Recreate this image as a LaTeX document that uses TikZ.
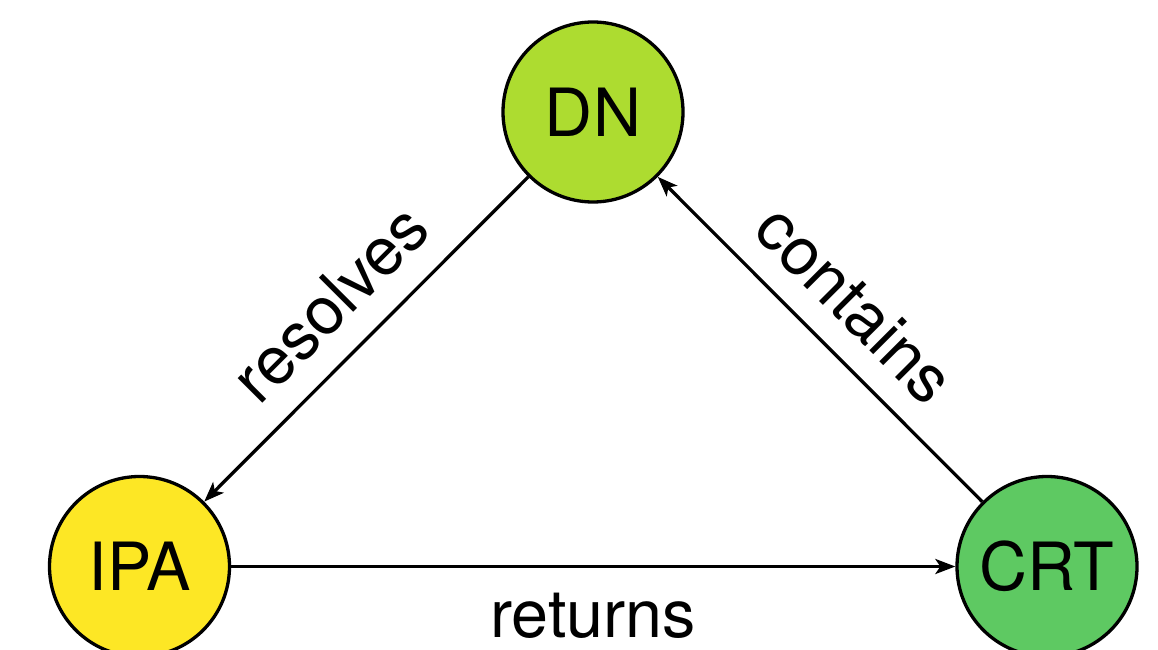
\documentclass[tikz,border=0pt]{standalone}
\usepackage{fontspec}
\setmainfont{TeX Gyre Heros}
\usetikzlibrary{arrows.meta}
\definecolor{cdn}{HTML}{ADDC30}
\definecolor{cipa}{HTML}{FDE725}
\definecolor{ccrt}{HTML}{5EC962}
\tikzset{
  ent/.style={circle, draw=black, line width=3.3pt, minimum size=180pt, inner sep=0pt,
    font=\fontsize{66.5}{80}\selectfont},
  rel/.style={line width=3.3pt, -{Stealth[length=20pt, width=15pt, inset=5pt]}},
  lab/.style={inner sep=0pt, font=\fontsize{66.5}{80}\selectfont}
}
\begin{document}
\begin{tikzpicture}[x=1pt, y=1pt]
\useasboundingbox (0,0) rectangle (1158,649);
\node[ent, fill=cdn] (dn) at (593,537) {DN};
\node[ent, fill=cipa] (ipa) at (139.5,82.5) {IPA};
\node[ent, fill=ccrt] (crt) at (1047,82.5) {CRT};
\draw[rel] (dn) -- node[lab, midway, sloped, above=25pt] {resolves} (ipa);
\draw[rel] (crt) -- node[lab, midway, sloped, above=24pt] {contains} (dn);
\draw[rel] (ipa) -- node[lab, midway, below=25pt] {returns} (crt);
\end{tikzpicture}
\end{document}
